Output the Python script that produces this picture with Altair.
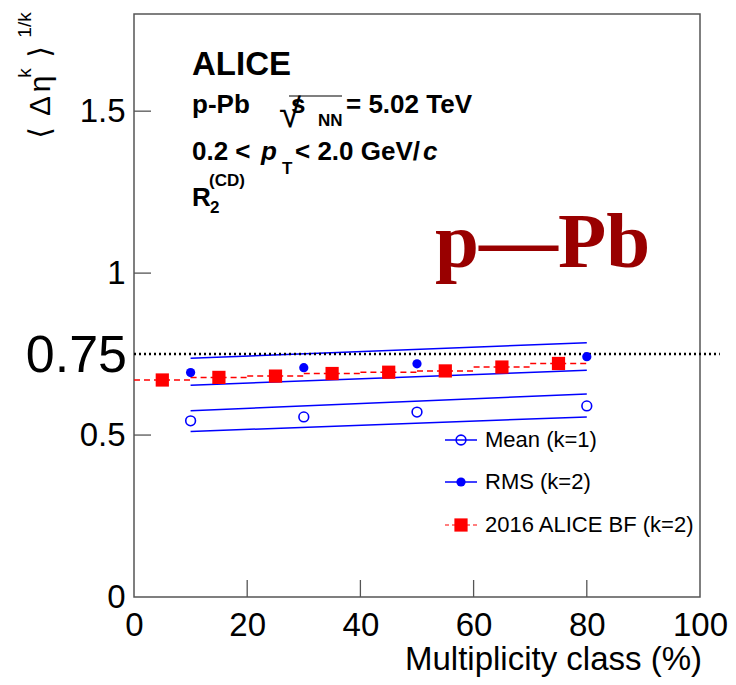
import altair as alt
import pandas as pd

# ---------------- data ----------------
mult_points = [10, 30, 50, 80]
rms_vals = [0.693, 0.708, 0.720, 0.742]
mean_vals = [0.544, 0.556, 0.571, 0.590]

band_x = [10, 80]
rms_hi = [0.737, 0.785]
rms_lo = [0.654, 0.700]
mean_hi = [0.575, 0.627]
mean_lo = [0.511, 0.556]

bf_x = [5, 15, 25, 35, 45, 55, 65, 75]
bf_vals = [0.670, 0.678, 0.682, 0.690, 0.694, 0.698, 0.710, 0.721]
bf_xerr = [5, 5, 5, 5, 5, 5, 5, 5]

x_ticks = [0, 20, 40, 60, 80, 100]
y_ticks = [0, 0.5, 1, 1.5]
x_inner_ticks = [20, 40, 60, 80]
y_inner_ticks = [0.5, 1, 1.5]
ref_level = [0.75]
ref_span = [0, 103.5]

legend_labels = ["Mean (k=1)", "RMS (k=2)", "2016 ALICE BF (k=2)"]

# ---------------- styling ----------------
W, H = 566, 583
FONT = "Liberation Sans, Arial, Helvetica, DejaVu Sans, sans-serif"
BLUE = "#0000ff"
RED = "#ff0000"

xs = alt.Scale(domain=[0, 100], nice=False, zero=False)
ys = alt.Scale(domain=[0, 1.8], nice=False, zero=False)
x_axis = alt.Axis(values=x_ticks, format="d", title=None, domain=False, ticks=False,
                  grid=False, labelFontSize=33, labelFont=FONT, labelColor="black",
                  labelPadding=12, labelFlush=False, labelOverlap=False)
y_axis = alt.Axis(values=y_ticks, format="~g", title=None, domain=False, ticks=False,
                  grid=False, labelFontSize=33, labelFont=FONT, labelColor="black",
                  labelPadding=9, labelFlush=False, labelOverlap=False)


def X(field):
    return alt.X(field, type="quantitative", scale=xs, axis=x_axis)


def Y(field):
    return alt.Y(field, type="quantitative", scale=ys, axis=y_axis)


# bands
band_rows = []
for name, vals in [("rms_hi", rms_hi), ("rms_lo", rms_lo), ("mean_hi", mean_hi), ("mean_lo", mean_lo)]:
    for xv, yv in zip(band_x, vals):
        band_rows.append({"x": xv, "y": yv, "band": name})
bands = alt.Chart(pd.DataFrame(band_rows)).mark_line(color=BLUE, strokeWidth=1.5).encode(
    x=X("x"), y=Y("y"), detail="band:N")

pts = pd.DataFrame({"x": mult_points, "rms": rms_vals, "mean": mean_vals})
rms_layer = alt.Chart(pts).mark_circle(color=BLUE, size=85, opacity=1).encode(x=X("x"), y=Y("rms"))
mean_layer = alt.Chart(pts).mark_point(shape="circle", filled=False, color=BLUE, size=95,
                                       strokeWidth=1.6, opacity=1).encode(x=X("x"), y=Y("mean"))

bf = pd.DataFrame({"x": bf_x, "y": bf_vals, "err": bf_xerr})
bf_err = alt.Chart(bf).transform_calculate(
    xlo="datum.x - datum.err", xhi="datum.x + datum.err"
).mark_rule(color=RED, strokeWidth=1.5, strokeDash=[6, 4]).encode(
    x=X("xlo"), x2="xhi:Q", y=Y("y"))
bf_pts = alt.Chart(bf).mark_square(color=RED, size=175, opacity=1).encode(x=X("x"), y=Y("y"))

ref = alt.Chart(pd.DataFrame({"y": ref_level, "x0": [ref_span[0]], "x1": [ref_span[1]]})).mark_rule(
    color="black", strokeWidth=2.5, strokeDash=[2, 3]).encode(x=X("x0"), x2="x1:Q", y=Y("y"))

xt = alt.Chart(pd.DataFrame({"t": x_inner_ticks})).mark_rule(color="#555", strokeWidth=1.3).encode(
    x=X("t"), y=alt.value(H), y2=alt.value(H - 17))
yt = alt.Chart(pd.DataFrame({"t": y_inner_ticks})).mark_rule(color="#555", strokeWidth=1.3).encode(
    y=Y("t"), x=alt.value(0), x2=alt.value(17))


def txt(s, x, y, size, weight="normal", style="normal", align="left",
        baseline="alphabetic", angle=0, color="black", font=FONT):
    return alt.Chart(alt.Data(values=[{"t": s}])).mark_text(
        align=align, baseline=baseline, fontSize=size, fontWeight=weight, fontStyle=style,
        font=font, color=color, angle=angle).encode(
        x=alt.value(x), y=alt.value(y), text="t:N")


annots = [
    txt("ALICE", 58, 61, 33, "bold"),
    txt("p-Pb", 58, 99, 26, "bold"),
    txt("√", 145, 113, 40, "normal"),
    txt("s", 157, 99, 26, "bold"),
    txt("NN", 184, 112, 17, "bold"),
    txt("= 5.02 TeV", 212, 99, 26, "bold"),
    txt("0.2 <", 58, 146, 26, "bold"),
    txt("p", 127, 146, 26, "bold", "italic"),
    txt("T", 148, 160, 17, "bold"),
    txt("< 2.0 GeV/", 161, 146, 26, "bold"),
    txt("c", 289, 146, 26, "bold", "italic"),
    txt("R", 58, 192, 26, "bold"),
    txt("(CD)", 75, 172, 17, "bold"),
    txt("2", 76, 199, 17, "bold"),
    txt("p—Pb", 301, 253, 79, "bold", font="Liberation Serif, DejaVu Serif, serif", color="#990000"),
    txt("0.75", -7, 358, 52, "normal", align="right"),
    txt("Multiplicity class (%)", W + 2, 656, 33, "normal", align="right"),
    # rotated y title
    txt("⟨", -84, 119, 30, angle=270, align="center"),
    txt("Δ", -84, 92, 30, angle=270, align="center"),
    txt("η", -84, 70, 30, angle=270, align="center"),
    txt("k", -103, 59, 19, angle=270, align="center"),
    txt("⟩", -84, 38, 30, angle=270, align="center"),
    txt("1/k", -103, 11, 19, angle=270, align="center"),
]

overline = alt.Chart(alt.Data(values=[{}])).mark_rule(color="black", strokeWidth=1.2).encode(
    x=alt.value(155), x2=alt.value(208), y=alt.value(82))

# legend
leg_y = [426, 468, 511]
lx0, lxm, lx1, ltx = 311, 327, 343, 351
leg_layers = []
leg_layers.append(alt.Chart(alt.Data(values=[{}])).mark_rule(color=BLUE, strokeWidth=1.5).encode(
    x=alt.value(lx0), x2=alt.value(lx1), y=alt.value(leg_y[0])))
leg_layers.append(alt.Chart(alt.Data(values=[{}])).mark_point(
    shape="circle", filled=False, color=BLUE, size=95, strokeWidth=1.6, opacity=1).encode(
    x=alt.value(lxm), y=alt.value(leg_y[0])))
leg_layers.append(alt.Chart(alt.Data(values=[{}])).mark_rule(color=BLUE, strokeWidth=1.5).encode(
    x=alt.value(lx0), x2=alt.value(lx1), y=alt.value(leg_y[1])))
leg_layers.append(alt.Chart(alt.Data(values=[{}])).mark_circle(color=BLUE, size=85, opacity=1).encode(
    x=alt.value(lxm), y=alt.value(leg_y[1])))
leg_layers.append(alt.Chart(alt.Data(values=[{}])).mark_rule(
    color=RED, strokeWidth=1.2, strokeDash=[4, 3]).encode(
    x=alt.value(lx0), x2=alt.value(lx1), y=alt.value(leg_y[2])))
leg_layers.append(alt.Chart(alt.Data(values=[{}])).mark_square(color=RED, size=175, opacity=1).encode(
    x=alt.value(lxm), y=alt.value(leg_y[2])))
for lab, ly in zip(legend_labels, leg_y):
    leg_layers.append(txt(lab, ltx, ly, 22, baseline="middle"))

chart = alt.layer(
    bands, ref, bf_err, bf_pts, mean_layer, rms_layer, xt, yt, overline, *annots, *leg_layers
).properties(
    width=W, height=H,
    autosize=alt.AutoSizeParams(type="none"),
    padding={"left": 126, "top": 6, "right": 28, "bottom": 80},
).configure_view(stroke="#555", strokeWidth=1.5)

chart.save("out.html", embed_options={"renderer": "svg", "actions": False})
